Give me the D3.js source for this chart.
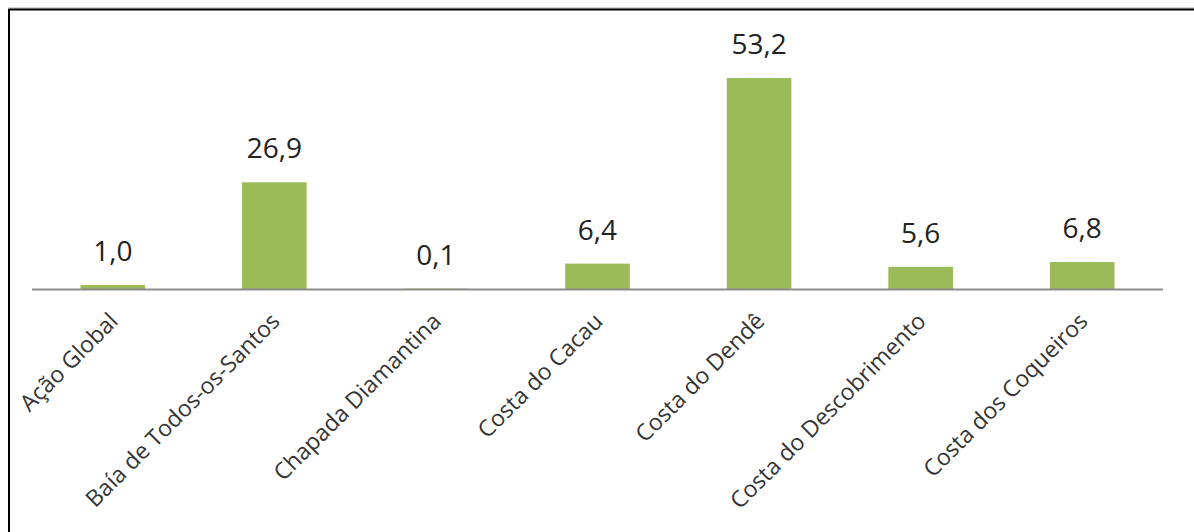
<!DOCTYPE html>
<head>
<meta charset="utf-8">
<style>
  body { margin:0; background:#fff; }
  svg { display:block; }
  .value { font-family: "Open Sans", sans-serif; font-size: 28px; fill: #222; }
  .cat { font-family: "Open Sans", sans-serif; font-size: 23px; fill: #333; }
</style>
<script src="https://d3js.org/d3.v7.min.js"></script>
</head>
<body>
<script>

var width = 1194;
var height = 532;

var categories = ["Ação Global", "Baía de Todos-os-Santos", "Chapada Diamantina",
    "Costa do Cacau", "Costa do Dendê", "Costa do Descobrimento", "Costa dos Coqueiros"];
var values = [1.0, 26.9, 0.1, 6.4, 53.2, 5.6, 6.8];
var valueLabels = ["1,0", "26,9", "0,1", "6,4", "53,2", "5,6", "6,8"];

var svg = d3.select("body").append("svg")
    .attr("width", width)
    .attr("height", height);

// frame (picture is cropped, only top and left edges show)
svg.append("line").attr("x1", 8).attr("x2", width).attr("y1", 8).attr("y2", 8)
    .attr("stroke", "#aaa").attr("stroke-width", 1);
svg.append("line").attr("x1", 8.5).attr("x2", width).attr("y1", 9.5).attr("y2", 9.5)
    .attr("stroke", "#000").attr("stroke-width", 2);
svg.append("line").attr("x1", 9).attr("x2", 9).attr("y1", 9).attr("y2", height)
    .attr("stroke", "#000").attr("stroke-width", 2);

var x = d3.scaleBand()
    .domain(categories)
    .range([32, 1163])
    .paddingInner(0.6)
    .paddingOuter(0.3);

var baseY = 289;
var y = d3.scaleLinear()
    .domain([0, 53.2])
    .range([baseY, 78]);

var g = svg.append("g");

g.selectAll("rect.bar")
    .data(values)
    .enter().append("rect")
    .attr("class", "bar")
    .attr("x", function(d, i) { return x(categories[i]); })
    .attr("y", function(d) { return y(d); })
    .attr("width", x.bandwidth())
    .attr("height", function(d) { return baseY - y(d); })
    .attr("fill", "#9bbb59");

// axis line
svg.append("line")
    .attr("x1", 32).attr("x2", 1163)
    .attr("y1", baseY + 0.5).attr("y2", baseY + 0.5)
    .attr("stroke", "#8c8c8c").attr("stroke-width", 2);

g.selectAll("text.value")
    .data(values)
    .enter().append("text")
    .attr("class", "value")
    .attr("x", function(d, i) { return x(categories[i]) + x.bandwidth() / 2; })
    .attr("y", function(d) { return y(d) - 24; })
    .attr("text-anchor", "middle")
    .text(function(d, i) { return valueLabels[i]; });

g.selectAll("text.cat")
    .data(categories)
    .enter().append("text")
    .attr("class", "cat")
    .attr("text-anchor", "end")
    .attr("transform", function(d) {
        var cx = x(d) + x.bandwidth() / 2;
        return "translate(" + (cx + 1) + "," + (baseY + 28) + ") rotate(-45)";
    })
    .attr("dy", "0.35em")
    .text(function(d) { return d; });

</script>
</body>
